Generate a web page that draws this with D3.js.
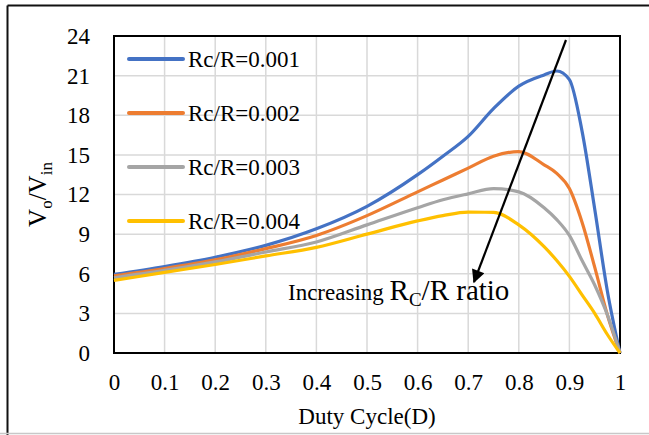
<!DOCTYPE html>
<html>
<head>
<meta charset="utf-8">
<script src="https://cdn.jsdelivr.net/npm/d3@7"></script>
<style>
  body { margin: 0; background: #fff; }
  svg { display: block; font-family: "Liberation Serif", "Times New Roman", serif; }
  svg text { font-family: "Liberation Serif", "Times New Roman", serif; }
</style>
</head>
<body>
<div id="chart"></div>
<script>
// Duty cycle samples
const duty = [0, 0.1, 0.2, 0.3, 0.4, 0.5, 0.6, 0.65, 0.7, 0.75, 0.8, 0.85, 0.875, 0.9, 0.925, 0.95, 0.975, 1];

// Vo/Vin for each Rc/R ratio
const gain001 = [5.95, 6.55, 7.25, 8.15, 9.4, 11.1, 13.5, 14.9, 16.4, 18.5, 20.2, 21.05, 21.35, 20.7, 16.8, 10.9, 4.7, 0];
const gain002 = [5.85, 6.4, 7.05, 7.9, 8.9, 10.4, 12.2, 13.1, 14.0, 14.9, 15.25, 14.25, 13.6, 12.45, 9.9, 6.5, 2.9, 0];
const gain003 = [5.7, 6.25, 6.9, 7.65, 8.4, 9.7, 11.0, 11.6, 12.05, 12.45, 12.2, 11.0, 10.1, 8.9, 7.0, 5.15, 2.9, 0];
const gain004 = [5.5, 6.1, 6.7, 7.35, 8.0, 9.0, 10.0, 10.4, 10.66, 10.65, 9.7, 8.05, 7.0, 5.8, 4.4, 3.0, 1.4, 0];

const seriesNames = ["Rc/R=0.001", "Rc/R=0.002", "Rc/R=0.003", "Rc/R=0.004"];
const seriesColors = ["#4472C4", "#ED7D31", "#A5A5A5", "#FFC000"];
const xTicks = [0, 0.1, 0.2, 0.3, 0.4, 0.5, 0.6, 0.7, 0.8, 0.9, 1];
const yTicks = [0, 3, 6, 9, 12, 15, 18, 21, 24];

const W = 649, H = 435;
const margin = {top: 36, right: 29, bottom: 82, left: 114};
const innerW = W - margin.left - margin.right;
const innerH = H - margin.top - margin.bottom;
const serif = '"Liberation Serif", "Times New Roman", serif';

const svg = d3.select("#chart").append("svg")
    .attr("width", W)
    .attr("height", H);

// outer chart-area border (top/left dark, bottom light)
svg.append("line").attr("x1", 7.5).attr("x2", W).attr("y1", 5.5).attr("y2", 5.5)
    .attr("stroke", "#111").attr("stroke-width", 2);
svg.append("line").attr("x1", 7.5).attr("x2", 7.5).attr("y1", 5.5).attr("y2", H)
    .attr("stroke", "#111").attr("stroke-width", 2);
svg.append("line").attr("x1", 0).attr("x2", W).attr("y1", 433.5).attr("y2", 433.5)
    .attr("stroke", "#c8c8c8").attr("stroke-width", 1.5);

const g = svg.append("g").attr("transform", `translate(${margin.left},${margin.top})`);

const x = d3.scaleLinear().domain([0, 1]).range([0, innerW]);
const y = d3.scaleLinear().domain([0, 24]).range([innerH, 0]);

// gridlines
g.append("g")
    .selectAll("line")
    .data(xTicks)
    .join("line")
    .attr("x1", d => x(d)).attr("x2", d => x(d))
    .attr("y1", 0).attr("y2", innerH)
    .attr("stroke", "#d9d9d9").attr("stroke-width", 1.5);
g.append("g")
    .selectAll("line")
    .data(yTicks)
    .join("line")
    .attr("x1", 0).attr("x2", innerW)
    .attr("y1", d => y(d)).attr("y2", d => y(d))
    .attr("stroke", "#d9d9d9").attr("stroke-width", 1.5);

// axes (labels only, frame drawn separately)
const xAxis = g.append("g")
    .attr("transform", `translate(0,${innerH})`)
    .call(d3.axisBottom(x).tickValues(xTicks).tickSize(0).tickPadding(21).tickFormat(d3.format("~g")));
const yAxis = g.append("g")
    .call(d3.axisLeft(y).tickValues(yTicks).tickSize(0).tickPadding(24));
[xAxis, yAxis].forEach(a => {
    a.attr("font-family", null).attr("font-size", null);
    a.select(".domain").remove();
    a.selectAll(".tick text")
        .style("font-family", serif)
        .style("font-size", "23px")
        .attr("fill", "#000");
});

// plot frame
g.append("rect")
    .attr("width", innerW).attr("height", innerH)
    .attr("fill", "none").attr("stroke", "#000").attr("stroke-width", 2);

// series
const allSeries = [gain001, gain002, gain003, gain004];
const line = d3.line()
    .x((d, i) => x(duty[i]))
    .y(d => y(d))
    .curve(d3.curveMonotoneX);

g.selectAll(".series")
    .data(allSeries)
    .join("path")
    .attr("class", "series")
    .attr("d", line)
    .attr("fill", "none")
    .attr("stroke", (d, i) => seriesColors[i])
    .attr("stroke-width", 3.2)
    .attr("stroke-linejoin", "round");

// legend
const legend = svg.append("g").attr("transform", "translate(129,59)");
const item = legend.selectAll(".item")
    .data(seriesNames)
    .join("g")
    .attr("class", "item")
    .attr("transform", (d, i) => `translate(0,${i * 54})`);
item.append("line")
    .attr("x1", 0).attr("x2", 54)
    .attr("stroke", (d, i) => seriesColors[i])
    .attr("stroke-width", 4)
    .attr("stroke-linecap", "round");
item.append("text")
    .attr("x", 59).attr("y", 8)
    .attr("font-size", 23)
    .text(d => d);

// arrow annotation
const defs = svg.append("defs");
defs.append("marker")
    .attr("id", "arrowHead")
    .attr("viewBox", "0 0 10 10")
    .attr("refX", 9).attr("refY", 5)
    .attr("markerWidth", 7).attr("markerHeight", 6)
    .attr("markerUnits", "strokeWidth")
    .attr("orient", "auto")
    .append("path")
    .attr("d", "M0,0L10,5L0,10z")
    .attr("fill", "#000");

svg.append("line")
    .attr("x1", 566).attr("y1", 40)
    .attr("x2", 474).attr("y2", 282)
    .attr("stroke", "#000").attr("stroke-width", 2.2)
    .attr("marker-end", "url(#arrowHead)");

const note = svg.append("text")
    .attr("x", 288).attr("y", 300);
note.append("tspan").attr("font-size", 23).text("Increasing ");
note.append("tspan").attr("font-size", 29).text("R");
note.append("tspan").attr("font-size", 19).attr("dy", 6).text("C");
note.append("tspan").attr("font-size", 29).attr("dy", -6).text("/R ratio");

// axis titles
svg.append("text")
    .attr("x", margin.left + innerW / 2).attr("y", 424)
    .attr("text-anchor", "middle")
    .attr("font-size", 23)
    .text("Duty Cycle(D)");

const yTitle = svg.append("text")
    .attr("transform", `translate(46,${margin.top + innerH / 2}) rotate(-90)`)
    .attr("text-anchor", "middle");
yTitle.append("tspan").attr("font-size", 25).text("V");
yTitle.append("tspan").attr("font-size", 17).attr("dy", 6).text("o");
yTitle.append("tspan").attr("font-size", 25).attr("dy", -6).text("/V");
yTitle.append("tspan").attr("font-size", 17).attr("dy", 6).text("in");
</script>
</body>
</html>
